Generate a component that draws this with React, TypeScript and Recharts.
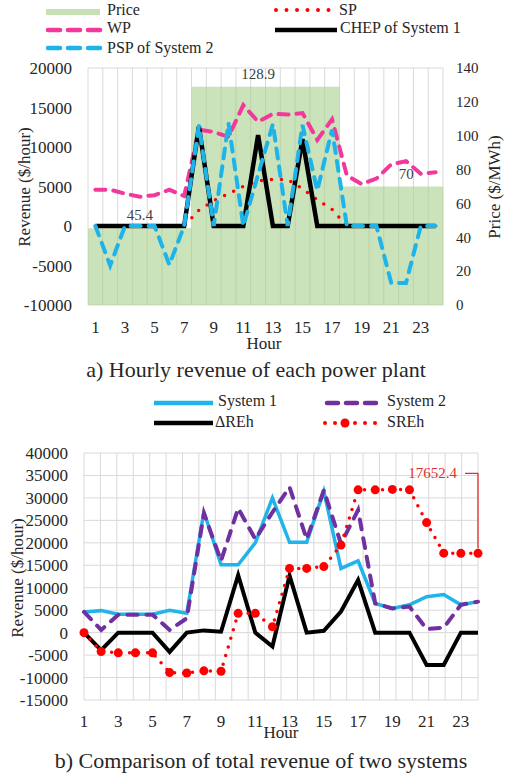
import React from 'react';
import { ComposedChart, LineChart, Line, Bar, XAxis, YAxis, CartesianGrid, LabelList } from 'recharts';

const hours = ['1', '2', '3', '4', '5', '6', '7', '8', '9', '10', '11', '12', '13', '14', '15', '16', '17', '18', '19', '20', '21', '22', '23', '24'];

// a) hourly revenue of each plant ($/hour) and price ($/MWh)
const price = [45.4, 45.4, 45.4, 45.4, 45.4, 45.4, 45.4, 128.9, 128.9, 128.9, 128.9, 128.9, 128.9, 128.9, 128.9, 128.9, 128.9, 70, 70, 70, 70, 70, 70, 70];
const sp = [0, 0, 0, 0, 0, 0, 0, 2000, 3200, 4100, 5000, 5700, 5900, 5900, 4700, 3300, 2100, 0, 0, 0, 0, 0, 0, 0];
const wp = [4600, 4600, 4100, 3700, 3900, 4600, 3800, 12200, 11900, 11300, 15300, 13200, 14200, 14100, 14300, 10900, 13500, 6400, 5300, 6000, 7800, 8200, 6600, 6800];
const chep = [0, 0, 0, 0, 0, 0, 0, 12600, 0, 0, 0, 11500, 0, 0, 11000, 0, 0, 0, 0, 0, 0, 0, 0, 0];
const psp = [0, -5000, 0, 0, 0, -4900, 0, 12700, 0, 13000, 0, 6500, 12900, 0, 12800, 4500, 12200, 0, 0, 0, -7200, -7200, 0, 0];

// b) total revenue of the two systems ($/hour)
const system1 = [4600, 4900, 4100, 4100, 4100, 5000, 4300, 26900, 15100, 15100, 20000, 30000, 20100, 20100, 31500, 14300, 16000, 6500, 5400, 6200, 8000, 8500, 6200, 6900];
const system2 = [4600, 600, 4000, 4000, 4000, 600, 3200, 26600, 16000, 27700, 20800, 26800, 32400, 20800, 31700, 19800, 27300, 6500, 5400, 5800, 800, 1100, 6200, 6900];
const deltaREh = [0, -3900, 0, 0, 0, -4300, 0, 500, 200, 12800, 0, -3100, 12700, 0, 400, 4700, 11700, 0, 0, 0, -7200, -7200, 0, 0];
const sREh = [0, -4200, -4500, -4500, -4500, -8900, -9000, -8500, -8600, 4300, 4300, 1300, 14300, 14300, 14700, 19500, 31800, 31800, 31900, 31800, 24500, 17700, 17652, 17652.4];

const revTicksA = [-10000, -5000, 0, 5000, 10000, 15000, 20000];
const priceTicks = [0, 20, 40, 60, 80, 100, 120, 140];
const revTicksB = [-15000, -10000, -5000, 0, 5000, 10000, 15000, 20000, 25000, 30000, 35000, 40000];
const labelledHours = ['4', '12', '22'];

const topData = hours.map((hour, i) => ({ hour, price: price[i], sp: sp[i], wp: wp[i], chep: chep[i], psp: psp[i] }));
const bottomData = hours.map((hour, i) => ({ hour, s1: system1[i], s2: system2[i], d: deltaREh[i], sr: sREh[i] }));

const FONT = 'Liberation Serif, Times New Roman, DejaVu Serif, serif';
const TXT = '#262626';
const GRID = '#d9d9d9';
const GREEN = '#a9d18e';
const RED = '#ff0000';
const PINK = '#f2399b';
const BLUE = '#1eb4ea';
const CYAN = '#1fb4ea';
const PURPLE = '#7030a0';

// gridlines sit between the hours, like Excel's "between tick marks"
const boundaryGrid = (n: number) => ({ offset }: any) =>
  Array.from({ length: n + 1 }, (_, i) => offset.left + (i * offset.width) / n);

const tickStyle = { fontSize: 17, fill: TXT, fontFamily: FONT, style: { fontFamily: FONT } };

const PriceLabel = (props: any) => {
  const { x, y, width, value, index } = props;
  if (!labelledHours.includes(hours[index])) return null;
  return (
    <text x={x + width / 2} y={y - 8} textAnchor="middle" fontSize={15} style={{ fontFamily: FONT }} fill="#404040">
      {value}
    </text>
  );
};

const FinalLabel = (props: any) => {
  const { x, y, value, index } = props;
  if (index !== hours.length - 1) return null;
  const ty = y - 80;
  return (
    <g>
      <path d={`M${x - 13},${ty} H${x} V${y - 5}`} stroke="#e0302a" strokeWidth={1.3} fill="none" />
      <text x={x - 21} y={ty} dominantBaseline="central" textAnchor="end" fontSize={15} style={{ fontFamily: FONT }} fill="#e0302a">
        {value}
      </text>
    </g>
  );
};

const Swatch = ({ x, y, color, width = 4, dash, len = 54 }: any) => (
  <line x1={x} y1={y} x2={x + len} y2={y} stroke={color} strokeWidth={width}
    strokeDasharray={dash} strokeLinecap={dash ? 'round' : 'butt'} />
);

const LegendText = ({ x, y, children }: any) => (
  <text x={x} y={y} fontSize={16} style={{ fontFamily: FONT }} fill={TXT}>{children}</text>
);

const Title = ({ x, y, size = 17, rotate, children }: any) => (
  <text
    x={rotate ? undefined : x}
    y={rotate ? undefined : y}
    transform={rotate ? `translate(${x},${y}) rotate(-90)` : undefined}
    dominantBaseline={rotate ? 'central' : undefined}
    textAnchor="middle" fontSize={size} style={{ fontFamily: FONT }} fill={TXT}>
    {children}
  </text>
);

export default function App() {
  return (
    <div style={{ position: 'absolute', left: 0, top: 0, width: 508, height: 774, background: '#fff', fontFamily: FONT }}>
      <div style={{ position: 'absolute', left: 0, top: 0 }}>
        <ComposedChart width={508} height={350} data={topData} margin={{ top: 68, right: 0, bottom: 0, left: 0 }}
          barCategoryGap={0} barGap={0}>
          <CartesianGrid stroke={GRID} verticalCoordinatesGenerator={boundaryGrid(hours.length)} />
          <XAxis dataKey="hour" interval={1} height={45} tickLine={false} axisLine={false} tickSize={0} tickMargin={16} tick={tickStyle} />
          <YAxis yAxisId="rev" width={88} domain={[-10000, 20000]} ticks={revTicksA} interval={0}
            tickLine={false} axisLine={false} tickSize={0} tickMargin={16} tick={tickStyle} />
          <YAxis yAxisId="price" orientation="right" width={65} domain={[0, 140]} ticks={priceTicks} interval={0}
            tickLine={false} axisLine={false} tickSize={0} tickMargin={13} tick={{ ...tickStyle, fontSize: 15 }} />
          <Bar yAxisId="price" dataKey="price" fill={GREEN} fillOpacity={0.6} isAnimationActive={false}>
            <LabelList dataKey="price" content={PriceLabel} />
          </Bar>
          <Line yAxisId="rev" dataKey="sp" stroke={RED} strokeWidth={3.5} strokeDasharray="0 10" strokeLinecap="round" dot={false} isAnimationActive={false} />
          <Line yAxisId="rev" dataKey="wp" stroke={PINK} strokeWidth={4} strokeDasharray="10 8" strokeLinecap="round" dot={false} isAnimationActive={false} />
          <Line yAxisId="rev" dataKey="chep" stroke="#000" strokeWidth={4.5} dot={false} isAnimationActive={false} />
          <Line yAxisId="rev" dataKey="psp" stroke={BLUE} strokeWidth={4} strokeDasharray="10 8" strokeLinecap="round" dot={false} isAnimationActive={false} />
        </ComposedChart>
      </div>

      <div style={{ position: 'absolute', left: 0, top: 440 }}>
        <LineChart width={508} height={300} data={bottomData} margin={{ top: 13, right: 30, bottom: 0, left: 0 }}>
          <CartesianGrid stroke={GRID} verticalCoordinatesGenerator={boundaryGrid(hours.length)} />
          <XAxis dataKey="hour" interval={1} height={40} tickLine={false} axisLine={false} tickSize={0} tickMargin={15} tick={tickStyle} />
          <YAxis width={84} domain={[-15000, 40000]} ticks={revTicksB} interval={0}
            tickLine={false} axisLine={false} tickSize={0} tickMargin={16} tick={tickStyle} />
          <Line dataKey="s1" stroke={CYAN} strokeWidth={3.5} dot={false} isAnimationActive={false} />
          <Line dataKey="s2" stroke={PURPLE} strokeWidth={4} strokeDasharray="10 9" strokeLinecap="round" dot={false} isAnimationActive={false} />
          <Line dataKey="d" stroke="#000" strokeWidth={4} dot={false} isAnimationActive={false} />
          <Line dataKey="sr" stroke={RED} strokeWidth={3.5} strokeDasharray="0 9" strokeLinecap="round"
            dot={{ r: 4.5, fill: RED, stroke: RED, strokeWidth: 0 }} isAnimationActive={false}>
            <LabelList dataKey="sr" content={FinalLabel} />
          </Line>
        </LineChart>
      </div>

      <svg width={508} height={774} style={{ position: 'absolute', left: 0, top: 0, pointerEvents: 'none' }}>
        {/* legend a) */}
        <Swatch x={46} y={12} color="#c5e0b4" width={6} />
        <LegendText x={107} y={15}>Price</LegendText>
        <Swatch x={276} y={10} color={RED} width={4} dash="0 10.5" />
        <LegendText x={339} y={15}>SP</LegendText>
        <Swatch x={48} y={30} color={PINK} width={4.5} dash="12 8" len={52} />
        <LegendText x={107} y={33}>WP</LegendText>
        <Swatch x={275} y={30} color="#000" width={4.5} len={62} />
        <LegendText x={340} y={33}>CHEP of System 1</LegendText>
        <Swatch x={48} y={48} color={BLUE} width={4.5} dash="12 8" len={52} />
        <LegendText x={107} y={53}>PSP of System 2</LegendText>

        {/* axis titles a) */}
        <Title x={264} y={349}>Hour</Title>
        <Title x={24.5} y={187} rotate>Revenue ($/hour)</Title>
        <Title x={494} y={187} rotate>Price ($/MWh)</Title>
        <Title x={256} y={377} size={22}>a) Hourly revenue of each power plant</Title>

        {/* legend b) */}
        <Swatch x={154} y={403} color={CYAN} width={4.5} len={59} />
        <LegendText x={218} y={406}>System 1</LegendText>
        <Swatch x={327} y={403} color={PURPLE} width={4.5} dash="11 8" len={50} />
        <LegendText x={387} y={406}>System 2</LegendText>
        <Swatch x={154} y={423} color="#000" width={4.5} len={59} />
        <LegendText x={215} y={427}>ΔREh</LegendText>
        <Swatch x={325} y={423} color={RED} width={4} dash="0 10" len={52} />
        <circle cx={345} cy={423} r={4.5} fill={RED} />
        <LegendText x={387} y={427}>SREh</LegendText>

        {/* axis titles b) */}
        <Title x={281} y={738}>Hour</Title>
        <Title x={17} y={578} rotate>Revenue ($/hour)</Title>
        <Title x={261} y={768} size={22}>b) Comparison of total revenue of two systems</Title>
      </svg>
    </div>
  );
}
